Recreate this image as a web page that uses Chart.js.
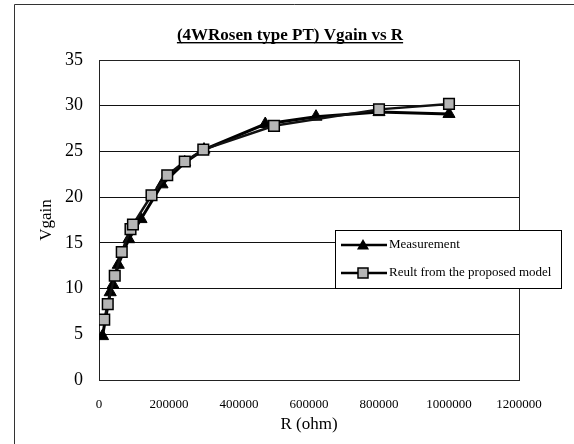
<!DOCTYPE html>
<html>
<head>
<meta charset="utf-8">
<script src="https://cdn.jsdelivr.net/npm/chart.js@4/dist/chart.umd.min.js"></script>
<style>
html, body { margin: 0; padding: 0; background: #fff; }
</style>
</head>
<body>
<canvas id="chart" width="574" height="444"></canvas>
<script>
// values
const measR = [10000, 32000, 40000, 55000, 85000, 120000, 180000, 245000, 300000, 475000, 620000, 800000, 1000000];
const measV = [4.8, 9.6, 10.4, 12.6, 15.4, 17.6, 21.4, 23.8, 25.2, 28.0, 28.8, 29.3, 29.1];
const modelR = [15000, 25000, 45000, 65000, 90000, 97000, 150000, 195000, 245000, 298000, 500000, 800000, 1000000];
const modelV = [6.6, 8.3, 11.4, 14.0, 16.5, 17.0, 20.2, 22.4, 23.9, 25.2, 27.8, 29.6, 30.2];
const xTicks = [0, 200000, 400000, 600000, 800000, 1000000, 1200000];
const yTicks = [0, 5, 10, 15, 20, 25, 30, 35];

const serif = "'Liberation Serif', 'Times New Roman', serif";
const toPts = (xs, ys) => xs.map((x, i) => ({ x: x, y: ys[i] }));

function drawTri(ctx, x, y, r) {
    ctx.beginPath();
    ctx.moveTo(x, y - r);
    ctx.lineTo(x + r * 0.866, y + r * 0.5);
    ctx.lineTo(x - r * 0.866, y + r * 0.5);
    ctx.closePath();
    ctx.fillStyle = "#000";
    ctx.fill();
}

function drawSq(ctx, x, y, s) {
    ctx.fillStyle = "#b5b5b5";
    ctx.fillRect(x - s / 2, y - s / 2, s, s);
    ctx.lineWidth = 1.5;
    ctx.strokeStyle = "#000";
    ctx.strokeRect(x - s / 2, y - s / 2, s, s);
}

const decor = {
    id: "decor",
    beforeDatasetsDraw(chart) {
        const ctx = chart.ctx;
        const a = chart.chartArea;
        ctx.save();
        ctx.strokeStyle = "#222";
        ctx.lineWidth = 1;
        ctx.strokeRect(a.left + 0.5, a.top + 0.5, a.right - a.left, a.bottom - a.top);
        ctx.restore();
    },
    afterDraw(chart) {
        const ctx = chart.ctx;
        ctx.save();
        // outer frame (only left and top edges show in the scan)
        ctx.strokeStyle = "#333";
        ctx.lineWidth = 1;
        ctx.beginPath();
        ctx.moveTo(14.5, 444);
        ctx.lineTo(14.5, 4.5);
        ctx.lineTo(574, 4.5);
        ctx.stroke();

        // title, bold + underlined
        ctx.fillStyle = "#000";
        ctx.font = "bold 17px " + serif;
        ctx.textAlign = "center";
        ctx.textBaseline = "alphabetic";
        const title = "(4WRosen type PT) Vgain vs R";
        ctx.fillText(title, 290, 40);
        const tw = ctx.measureText(title).width;
        ctx.fillRect(290 - tw / 2, 42, tw, 1.4);

        // axis titles
        ctx.font = "17px " + serif;
        ctx.textBaseline = "middle";
        ctx.fillText("R (ohm)", 309, 425);
        ctx.save();
        ctx.translate(47, 220);
        ctx.rotate(-Math.PI / 2);
        ctx.fillText("Vgain", 0, 0);
        ctx.restore();

        // legend box
        ctx.fillStyle = "#fff";
        ctx.fillRect(335, 230, 226, 58);
        ctx.strokeStyle = "#000";
        ctx.lineWidth = 1;
        ctx.strokeRect(335.5, 230.5, 226, 58);

        ctx.lineWidth = 2.5;
        ctx.beginPath();
        ctx.moveTo(341, 245);
        ctx.lineTo(387, 245);
        ctx.moveTo(341, 273);
        ctx.lineTo(387, 273);
        ctx.stroke();
        drawTri(ctx, 363, 246, 7);
        drawSq(ctx, 363, 273, 10);

        ctx.fillStyle = "#000";
        ctx.font = "13px " + serif;
        ctx.textAlign = "left";
        ctx.textBaseline = "middle";
        ctx.fillText("Measurement", 389, 245);
        ctx.fillText("Reult from the proposed model", 389, 273);
        ctx.restore();
    }
};

new Chart(document.getElementById("chart"), {
    type: "scatter",
    data: {
        datasets: [
            {
                label: "Measurement",
                data: toPts(measR, measV),
                showLine: true,
                borderColor: "#000",
                borderWidth: 3,
                pointStyle: "triangle",
                pointRadius: 7,
                pointBackgroundColor: "#000",
                pointBorderColor: "#000",
                pointBorderWidth: 1,
                order: 1
            },
            {
                label: "Reult from the proposed model",
                data: toPts(modelR, modelV),
                showLine: true,
                borderColor: "#111",
                borderWidth: 2.5,
                pointStyle: "rect",
                pointRadius: 7.5,
                pointBackgroundColor: "#b5b5b5",
                pointBorderColor: "#000",
                pointBorderWidth: 1.5,
                order: 0
            }
        ]
    },
    options: {
        responsive: false,
        animation: false,
        layout: { padding: { top: 60, right: 55, bottom: 0, left: 0 } },
        plugins: {
            legend: { display: false },
            tooltip: { enabled: false }
        },
        scales: {
            x: {
                type: "linear",
                min: 0,
                max: 1200000,
                afterBuildTicks: (s) => { s.ticks = xTicks.map(v => ({ value: v })); },
                afterFit: (s) => { s.height = 64; },
                grid: { display: false, drawTicks: false },
                border: { display: false },
                ticks: {
                    padding: 17,
                    color: "#000",
                    font: { family: serif, size: 13 },
                    maxRotation: 0,
                    callback: (v) => String(v)
                }
            },
            y: {
                type: "linear",
                min: 0,
                max: 35,
                afterBuildTicks: (s) => { s.ticks = yTicks.map(v => ({ value: v })); },
                afterFit: (s) => { s.width = 99; },
                grid: { color: "#111", lineWidth: 1, drawTicks: false },
                border: { display: false },
                ticks: {
                    padding: 16,
                    color: "#000",
                    font: { family: serif, size: 18 },
                    callback: (v) => String(v)
                }
            }
        }
    },
    plugins: [decor]
});
</script>
</body>
</html>
